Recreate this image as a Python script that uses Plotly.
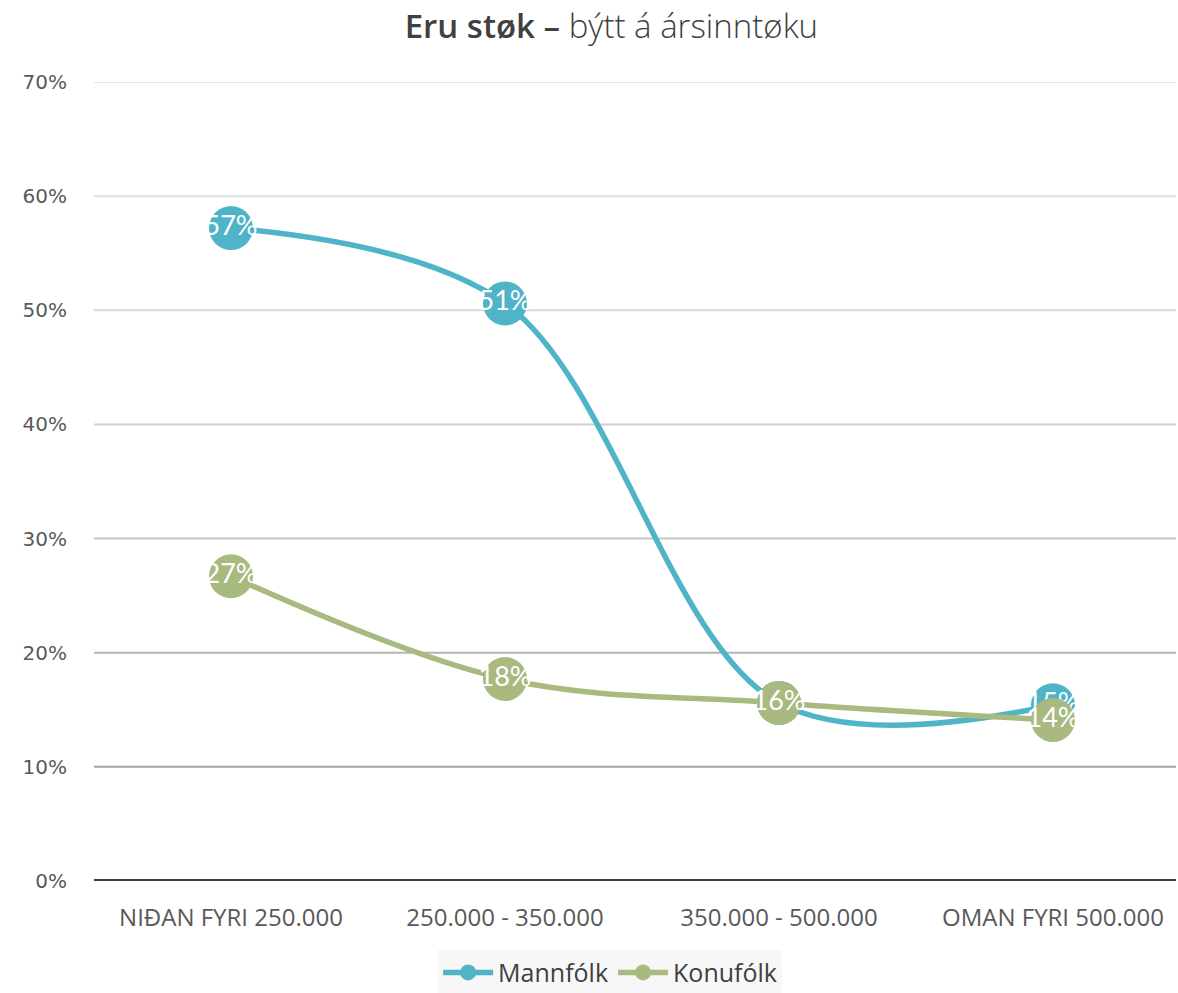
import plotly.graph_objects as go

categories = ["NIĐAN FYRI 250.000", "250.000 - 350.000", "350.000 - 500.000", "OMAN FYRI 500.000"]
mann = [0.572, 0.506, 0.156, 0.154]
konu = [0.267, 0.177, 0.156, 0.141]
series_names = ["Mannfólk", "Konufólk"]
colors = ["#4fb4c8", "#a8ba7f"]
grid_vals = [0.1, 0.2, 0.3, 0.4, 0.5, 0.6, 0.7]
grid_colors = ["#a3a3a3", "#b5b5b5", "#c5c5c5", "#d0d0d0", "#d9d9d9", "#e0e0e0", "#e6e6e6"]
ytick_vals = [0, 0.1, 0.2, 0.3, 0.4, 0.5, 0.6, 0.7]
ytick_text = ["0%", "10%", "20%", "30%", "40%", "50%", "60%", "70%"]

fig = go.Figure()
for name, vals, col in zip(series_names, [mann, konu], colors):
    fig.add_trace(go.Scatter(
        x=list(range(len(categories))), y=vals, name=name,
        mode="lines+markers+text",
        line=dict(color=col, width=5.5, shape="spline", smoothing=1.0),
        marker=dict(color=col, size=44),
        texttemplate="%{y:.0%}", textposition="middle center",
        textfont=dict(family="Lato", size=27, color="white"),
        cliponaxis=False,
    ))

shapes = []
for v, c in zip(grid_vals, grid_colors):
    shapes.append(dict(type="line", xref="paper", yref="y", x0=0, x1=1, y0=v, y1=v,
                       line=dict(color=c, width=2), layer="below"))
shapes.append(dict(type="line", xref="paper", yref="y", x0=0, x1=1, y0=0, y1=0,
                   line=dict(color="#404040", width=4), layer="above"))

fig.update_layout(
    width=1178, height=993,
    paper_bgcolor="white", plot_bgcolor="white",
    margin=dict(l=94, r=2, t=82, b=112, autoexpand=False),
    title=dict(text="<span style='font-weight:600'>Eru støk –</span> býtt á ársinntøku",
               x=0.519, xanchor="center", y=0.973, yanchor="middle",
               font=dict(family="Open Sans", size=33, color="#404040", weight=300)),
    xaxis=dict(range=[-0.5, 3.449], tickmode="array", tickvals=list(range(len(categories))),
               ticktext=categories, showgrid=False, zeroline=False, showline=False, automargin=False,
               tickfont=dict(family="Open Sans", size=24, color="#595959"), ticklabelstandoff=20),
    yaxis=dict(range=[0, 0.7], tickmode="array", tickvals=ytick_vals, ticktext=ytick_text,
               showgrid=False, zeroline=False, showline=False, automargin=False,
               tickfont=dict(family="DejaVu Sans", size=20, color="#595959"), ticklabelstandoff=26),
    legend=dict(orientation="h", x=0.477, xanchor="center", y=-0.086, yanchor="top",
                bgcolor="#f7f7f7", font=dict(family="Open Sans", size=25, color="#404040"),
                itemwidth=50),
    shapes=shapes,
    showlegend=True,
)
fig.write_html("out.html", post_script="document.body.style.margin='0';",
               config={"displayModeBar": False})
